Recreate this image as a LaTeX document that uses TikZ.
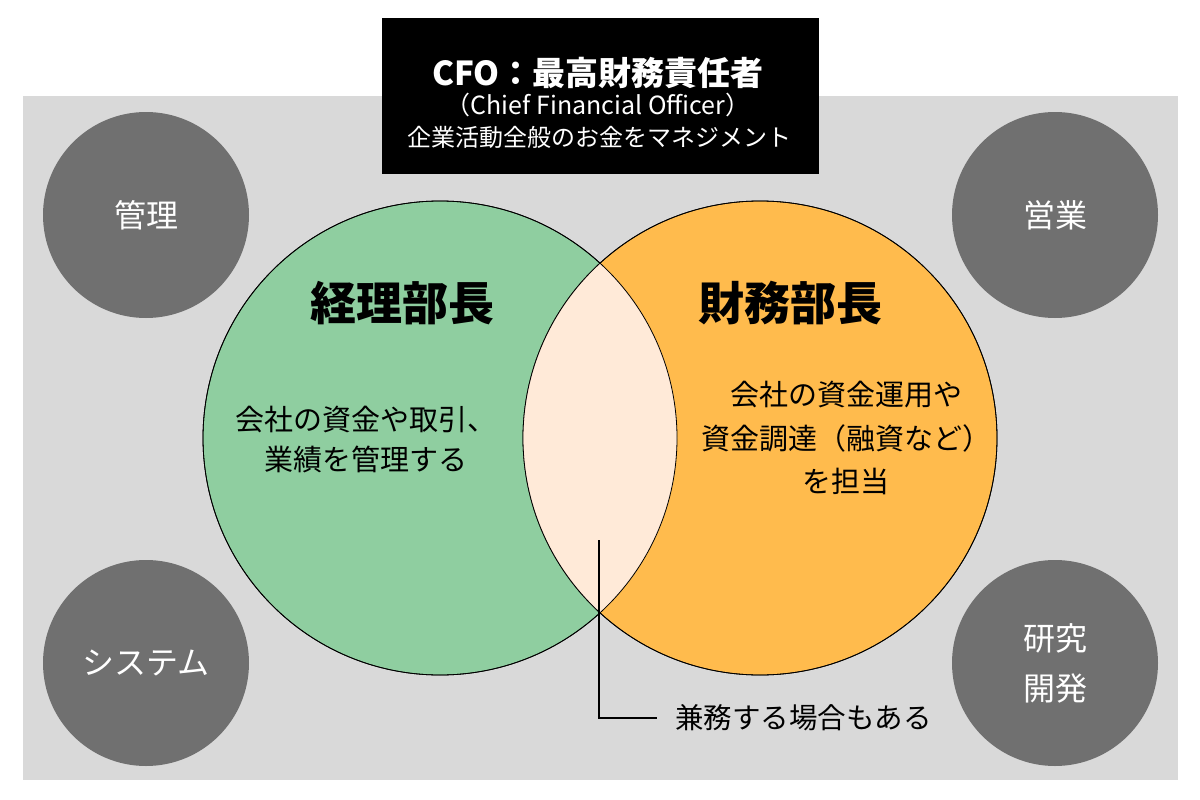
\documentclass[tikz,border=0pt]{standalone}
\usepackage{fontspec}
\setmainfont{Noto Sans CJK JP}
\definecolor{bggray}{HTML}{D9D9D9}
\definecolor{darkc}{HTML}{707070}
\definecolor{greenc}{HTML}{8FCEA0}
\definecolor{orangec}{HTML}{FFBB4D}
\definecolor{lensc}{HTML}{FFEAD8}
\begin{document}
\begin{tikzpicture}[x=1pt,y=-1pt,
  dept/.style={circle, fill=darkc, minimum size=206pt, inner sep=0pt, text=white,
     align=center, font=\fontsize{32}{50}\selectfont},
  bigc/.style={circle, draw=black, line width=0.8pt, minimum size=474pt, inner sep=0pt},
  title/.style={font=\fontsize{46}{50}\selectfont\bfseries, inner sep=0pt},
  body/.style={align=center, inner sep=0pt},
  wtxt/.style={text=white, inner sep=0pt}]
\useasboundingbox (0,0) rectangle (1200,800);
\fill[white] (0,0) rectangle (1200,800);
% gray background
\fill[bggray] (23,96) rectangle (1178,780);
% black title box
\node[fill=black, minimum width=437pt, minimum height=156pt, inner sep=0pt, anchor=north west] (cfo) at (382,18) {};
\node[wtxt, font=\fontsize{33}{36}\selectfont\bfseries] (t1) at (598,73) {CFO：最高財務責任者};
\node[wtxt, font=\fontsize{25}{28}\selectfont] (t2) at (598,105) {（Chief Financial Officer）};
\node[wtxt, font=\fontsize{24}{26}\selectfont] (t3) at (599,137) {企業活動全般のお金をマネジメント};
% department circles
\node[dept] (kanri) at (146,215) {管理};
\node[dept] (eigyo) at (1055,215) {営業};
\node[dept] (system) at (146,663) {システム};
\node[dept] (kenkyu) at (1055,663) {研究\\開発};
% big circles
\node[bigc, fill=greenc] (keiri) at (440,438) {};
\node[bigc, fill=orangec] (zaimu) at (760,438) {};
\begin{scope}
  \clip (440,438) circle (237pt);
  \fill[lensc] (760,438) circle (237pt);
\end{scope}
\draw[line width=0.8pt] (440,438) circle (237pt);
\draw[line width=0.8pt] (760,438) circle (237pt);
% titles and texts
\node[title] (kt) at (402,303) {経理部長};
\node[title] (zt) at (790,303) {財務部長};
\node[body, font=\fontsize{29}{40}\selectfont] (kb) at (366,440) {会社の資金や取引、\\業績を管理する};
\node[body, font=\fontsize{29}{43.5}\selectfont] (zb) at (846,438) {会社の資金運用や\\資金調達（融資など）\\を担当};
% note
\coordinate (ltop) at (599,540);
\node[inner sep=0pt, anchor=west, font=\fontsize{28.5}{30}\selectfont] (note) at (675,718) {兼務する場合もある};
\draw[line width=2pt] (ltop) |- ([xshift=-18pt]note.west);
\end{tikzpicture}
\end{document}
